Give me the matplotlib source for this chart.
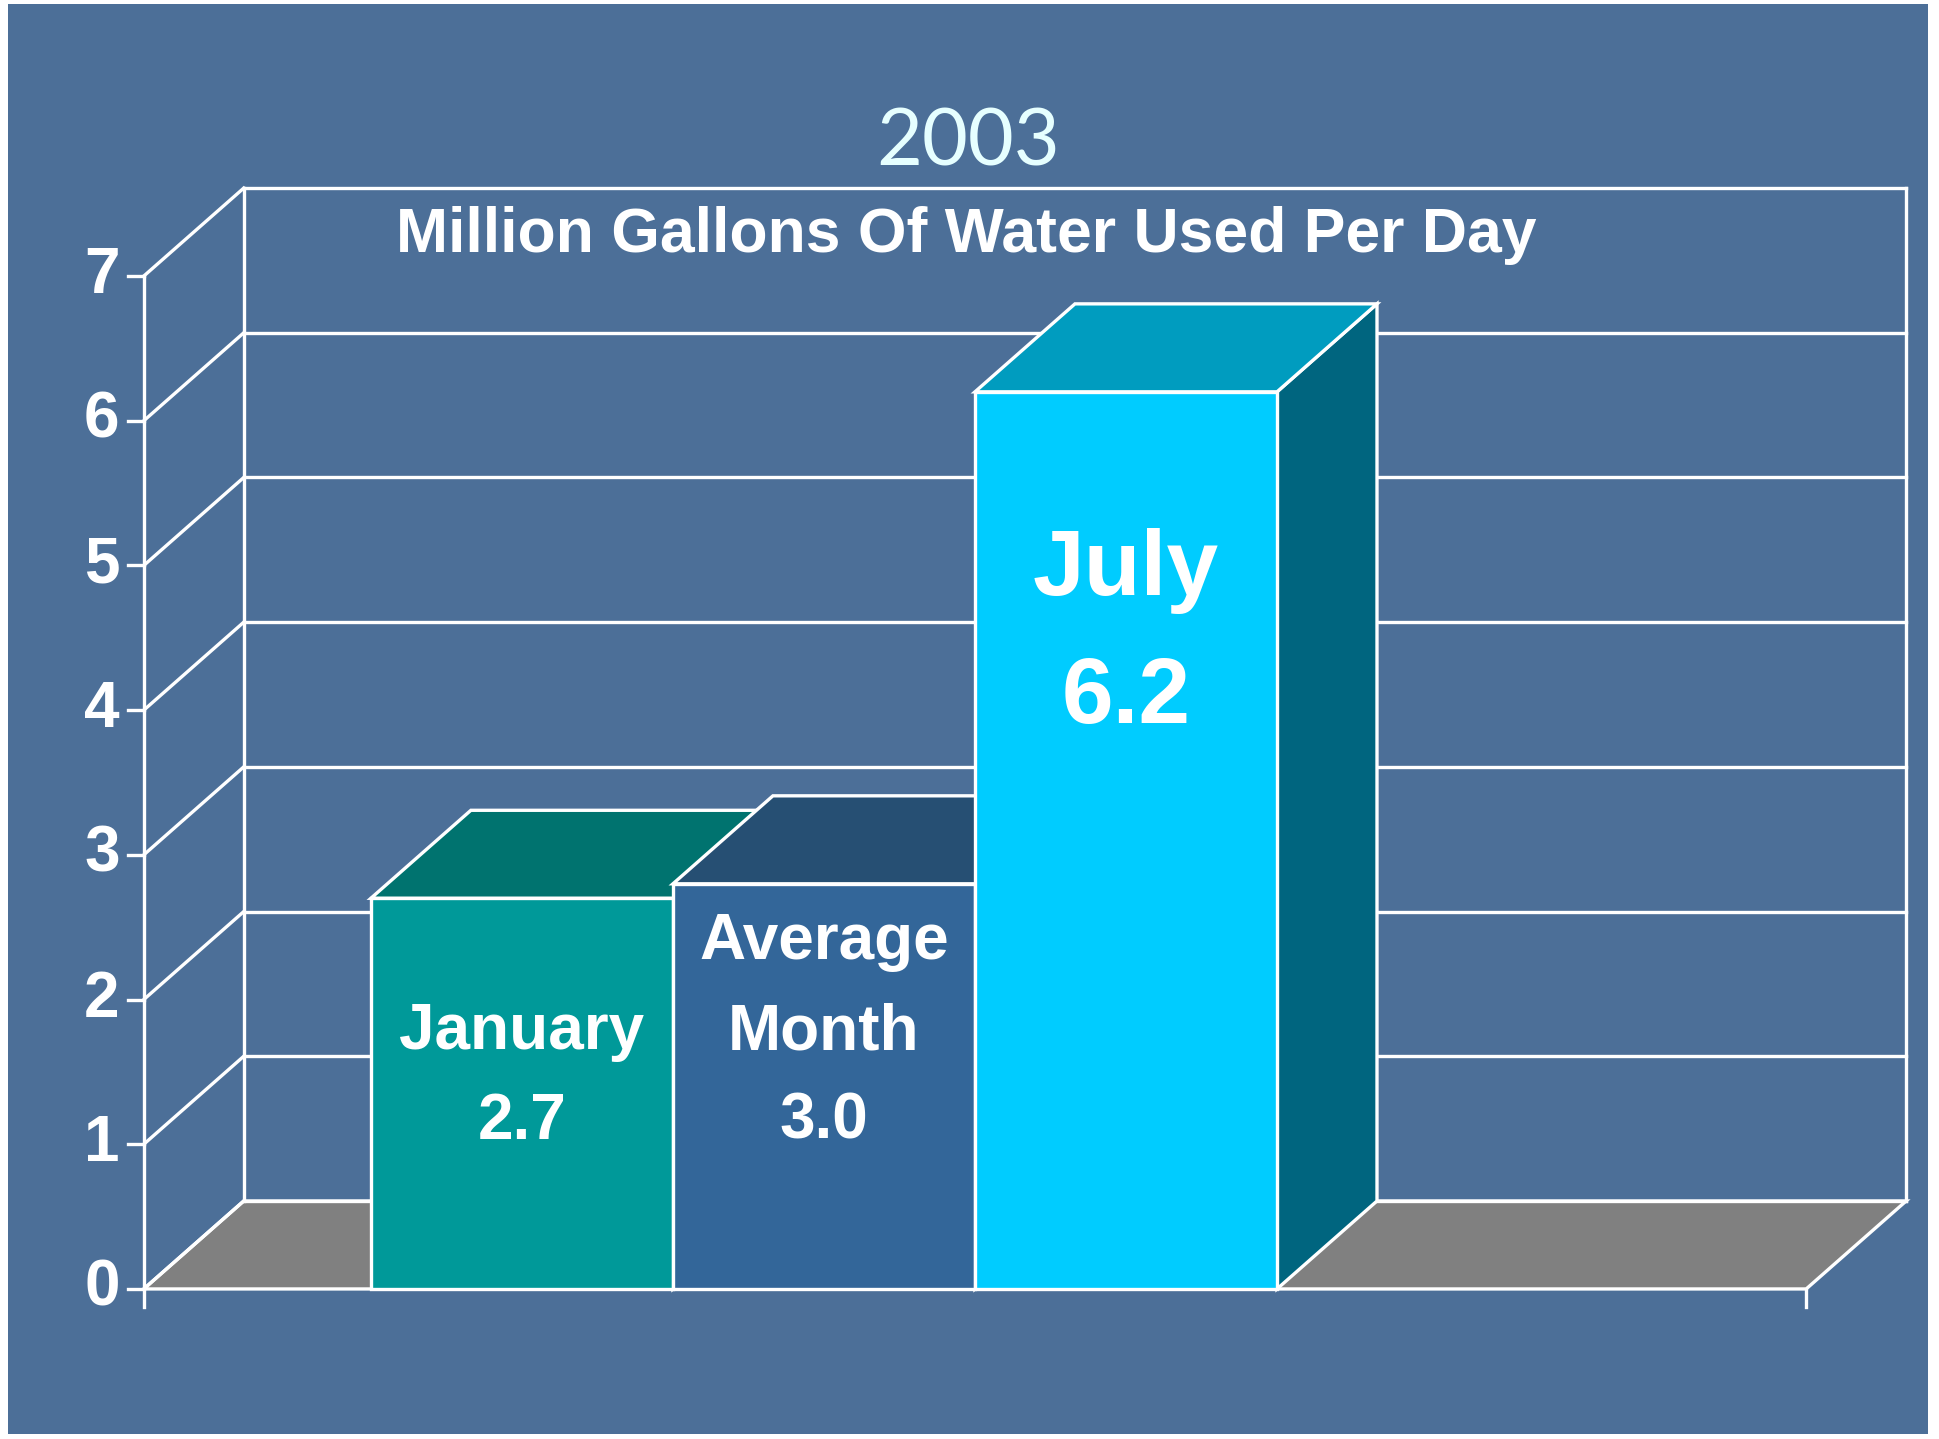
import matplotlib
matplotlib.use("Agg")
import matplotlib.pyplot as plt
from matplotlib.patches import Polygon, Rectangle

# chart data
categories = ["January", "Average\nMonth", "July"]
bar_heights = [2.7, 2.8, 6.2]          # heights as drawn
bar_labels = ["2.7", "3.0", "6.2"]     # values printed on the bars
y_ticks = [0, 1, 2, 3, 4, 5, 6, 7]

front_colors = ["#009999", "#336699", "#00ccff"]
top_colors = ["#00736f", "#264f73", "#009cbf"]
side_colors = ["#006666", "#1f4466", "#00657f"]
label_sizes = [46, 46, 67]
label_base = [1.037, 1.037, 3.912]      # baseline of last text line (value units)
label_step = [0.62, 0.62, 0.885]

title = "2003"
subtitle = "Million Gallons Of Water Used Per Day"

# 3d frame geometry (x in bar widths, y in values)
x_left, x_right = -1.252, 4.252
dx, dy = 0.331, 0.608
ymax = 7

bold_font = ["Liberation Sans Narrow", "Liberation Sans", "DejaVu Sans"]

fig = plt.figure(figsize=(19.4, 14.39), dpi=100, facecolor="white")
fig.patches.append(Rectangle((8 / 1940, 5 / 1439), 1920 / 1940, 1430 / 1439,
                             transform=fig.transFigure, facecolor="#4c6f98",
                             edgecolor="none", zorder=0))

ax = fig.add_axes([0, 0, 1, 1], zorder=2)
ax.set_xlim(-1.728, 4.695)
ax.set_ylim(-1.037, 8.908)
ax.axis("off")
ax.patch.set_alpha(0)

lw = 2.4
wc = "white"

# floor
floor = Polygon([(x_left, 0), (x_right, 0), (x_right + dx, dy), (x_left + dx, dy)],
                closed=True, facecolor="#808080", edgecolor=wc, lw=lw, zorder=1)
ax.add_patch(floor)

# back wall gridlines, left wall diagonals, tick marks
for v in y_ticks:
    ax.plot([x_left + dx, x_right + dx], [v + dy, v + dy], color=wc, lw=lw, zorder=1)
    ax.plot([x_left, x_left + dx], [v, v + dy], color=wc, lw=lw, zorder=1)
    ax.plot([x_left - 0.053, x_left], [v, v], color=wc, lw=lw, zorder=1)
    ax.text(x_left - 0.080, v, str(v), color=wc, fontsize=46, fontweight="bold",
            family=bold_font, ha="right", va="center", zorder=5)

ax.plot([x_left + dx, x_left + dx], [dy, ymax + dy], color=wc, lw=lw, zorder=1)
ax.plot([x_right + dx, x_right + dx], [dy, ymax + dy], color=wc, lw=lw, zorder=1)
ax.plot([x_left, x_left], [-0.124, ymax], color=wc, lw=lw, zorder=1)
ax.plot([x_right, x_right], [-0.124, 0], color=wc, lw=lw, zorder=1)

# bars
for i, h in enumerate(bar_heights):
    x0, x1 = i - 0.5, i + 0.5
    z = 2 + i
    side = Polygon([(x1, 0), (x1 + dx, dy), (x1 + dx, h + dy), (x1, h)], closed=True,
                   facecolor=side_colors[i], edgecolor=wc, lw=lw, zorder=z)
    top = Polygon([(x0, h), (x1, h), (x1 + dx, h + dy), (x0 + dx, h + dy)], closed=True,
                  facecolor=top_colors[i], edgecolor=wc, lw=lw, zorder=z)
    front = Rectangle((x0, 0), 1, h, facecolor=front_colors[i], edgecolor=wc,
                      lw=lw, zorder=z)
    for p in (side, top, front):
        ax.add_patch(p)

    lines = categories[i].split("\n") + [bar_labels[i]]
    for k, line in enumerate(reversed(lines)):
        ax.text(i, label_base[i] + k * label_step[i], line, color=wc,
                fontsize=label_sizes[i], fontweight="bold", family=bold_font,
                ha="center", va="baseline", zorder=10)

# titles
fig.text(968 / 1940, 1 - 166 / 1439, title, color="#e6ffff", fontsize=57,
         family=["Lato", "DejaVu Sans"], ha="center", va="baseline", zorder=5)
fig.text(966 / 1940, 1 - 252 / 1439, subtitle, color=wc, fontsize=45,
         fontweight="bold", family=bold_font, ha="center", va="baseline", zorder=5)

fig.savefig("out.png", dpi=100, facecolor=fig.get_facecolor())
